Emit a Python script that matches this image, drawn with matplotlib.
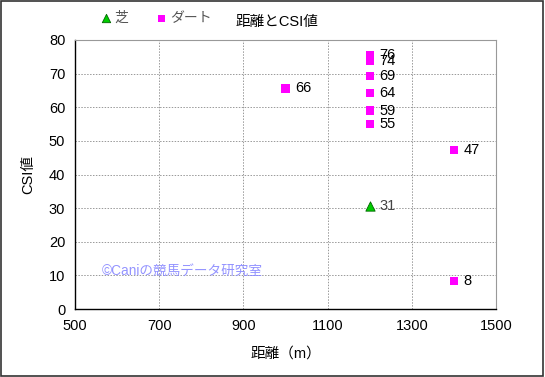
import matplotlib
matplotlib.use("Agg")
import matplotlib.pyplot as plt
from matplotlib.patches import Rectangle

plt.rcParams['font.family'] = ['Liberation Sans', 'Noto Sans CJK JP']

turf_x = [1200]
turf_y = [30.7]
turf_labels = ["31"]

dirt_x = [1000, 1200, 1200, 1200, 1200, 1200, 1200, 1400, 1400]
dirt_y = [65.6, 75.6, 73.8, 69.3, 64.2, 59.0, 55.1, 47.2, 8.3]
dirt_labels = ["66", "76", "74", "69", "64", "59", "55", "47", "8"]

x_ticks = [500, 700, 900, 1100, 1300, 1500]
y_ticks = [0, 10, 20, 30, 40, 50, 60, 70, 80]

fig = plt.figure(figsize=(5.45, 3.77), dpi=100)
ax = fig.add_axes([0.1376, 0.180, 0.7725, 0.714])

ax.scatter(turf_x, turf_y, marker='^', s=45, color='#00cc00', edgecolor='#006600', linewidth=0.6, zorder=3, label='芝')
ax.scatter(dirt_x, dirt_y, marker='s', s=36, color='#ff00ff', edgecolor='none', zorder=3, label='ダート')

for x, y, t in zip(turf_x, turf_y, turf_labels):
    ax.annotate(t, (x, y), xytext=(7, 0), textcoords='offset points', va='center', ha='left', fontsize=10.5, color='#444444')
for x, y, t in zip(dirt_x, dirt_y, dirt_labels):
    ax.annotate(t, (x, y), xytext=(7, 0), textcoords='offset points', va='center', ha='left', fontsize=10.5, color='black')

ax.set_xlim(500, 1500)
ax.set_ylim(0, 80)
ax.set_xticks(x_ticks)
ax.set_yticks(y_ticks)
ax.tick_params(labelsize=10.5, length=0, pad=7)
ax.grid(True, color='#999999', linestyle=(0, (1.5, 1.5)), linewidth=0.7)
ax.set_axisbelow(True)
for s in ['top', 'right']:
    ax.spines[s].set_color('#999999')
for s in ['left', 'bottom']:
    ax.spines[s].set_color('black')
    ax.spines[s].set_linewidth(1.0)

ax.set_xlabel('距離（m）', fontsize=10.5, labelpad=10)
ax.set_ylabel('CSI値', fontsize=10.5, labelpad=10)

fig.text(0.508, 0.942, '距離とCSI値', ha='center', va='center', fontsize=10.5)

fig.legend(loc='center left', bbox_to_anchor=(0.182, 0.952), ncol=2, frameon=False,
           fontsize=10, handletextpad=0.1, handlelength=1.0, columnspacing=1.9,
           markerscale=0.9, borderpad=0, borderaxespad=0, labelcolor='#555555')

ax.text(0.064, 0.141, '©Caniの競馬データ研究室', transform=ax.transAxes, fontsize=9.8,
        color='#8888ff', alpha=0.9, va='center', ha='left')

fig.patches.append(Rectangle((0.002, 0.003), 0.995, 0.994, transform=fig.transFigure,
                             fill=False, edgecolor='#333333', linewidth=1.2))

fig.savefig('out.png', dpi=100)
